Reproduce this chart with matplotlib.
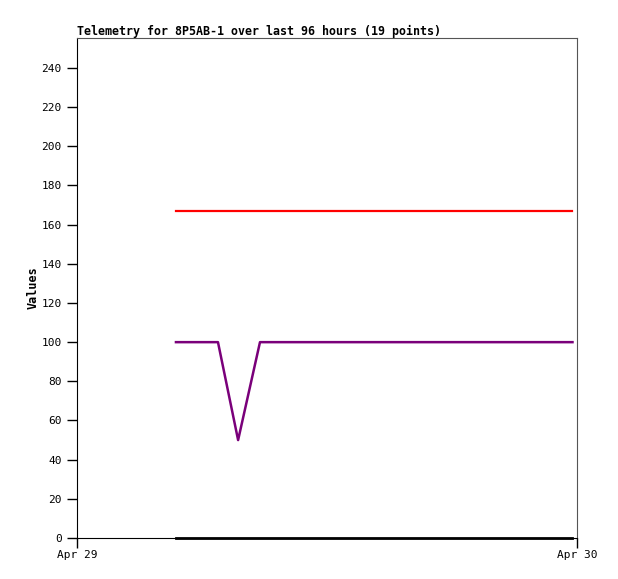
import matplotlib
matplotlib.use("Agg")
import matplotlib.pyplot as plt
import matplotlib.dates as mdates
from datetime import datetime, timedelta

# Data (hours after Apr 29 00:00)
times_str = ["04:45", "06:46", "07:44", "08:47", "09:47", "10:47", "11:47", "12:47",
             "13:47", "14:47", "15:47", "16:47", "17:47", "18:47", "19:47", "20:47",
             "21:47", "22:47", "23:47"]
red_values = [167] * 19
purple_values = [100, 100, 50, 100, 100, 100, 100, 100, 100, 100, 100, 100, 100,
                 100, 100, 100, 100, 100, 100]
black_values = [0] * 19
tick_labels = ["Apr 29", "Apr 30"]
title = "Telemetry for 8P5AB-1 over last 96 hours (19 points)"

base = datetime(2024, 4, 29)
times = [base + timedelta(hours=int(s[:2]), minutes=int(s[3:])) for s in times_str]

W, H = 618, 579
fig = plt.figure(figsize=(W / 100, H / 100), dpi=100)
ax = fig.add_axes([77 / W, (H - 538) / H, 500 / W, 500 / H])

font = "DejaVu Sans Mono"
ax.plot(times, red_values, color="#ff0000", lw=1.6)
ax.plot(times, black_values, color="#000000", lw=2.0, clip_on=False, zorder=3)
ax.plot(times, purple_values, color="#7a007a", lw=1.8)

ax.set_xlim(mdates.date2num(base), mdates.date2num(base + timedelta(days=1)))
ax.set_ylim(0, 255.3)
ax.set_xticks([mdates.date2num(base), mdates.date2num(base + timedelta(days=1))])
ax.set_xticklabels(tick_labels, fontfamily=font, fontsize=8)
ax.set_yticks(range(0, 241, 20))
ax.set_yticklabels([str(v) for v in range(0, 241, 20)], fontfamily=font, fontsize=8)
ax.tick_params(axis="both", direction="out", length=7, width=1, color="black")
ax.tick_params(axis="x", pad=2)
ax.tick_params(axis="y", pad=4)

for s in ["left", "bottom"]:
    ax.spines[s].set_color("black")
for s in ["right", "top"]:
    ax.spines[s].set_color("#555555")

ax.set_ylabel("Values", fontfamily=font, fontsize=8.5, fontweight="bold", labelpad=1)
ax.set_title(title, fontfamily=font, fontsize=8.35, fontweight="bold", loc="left", pad=2, x=0)

fig.savefig("out.png", dpi=100)
